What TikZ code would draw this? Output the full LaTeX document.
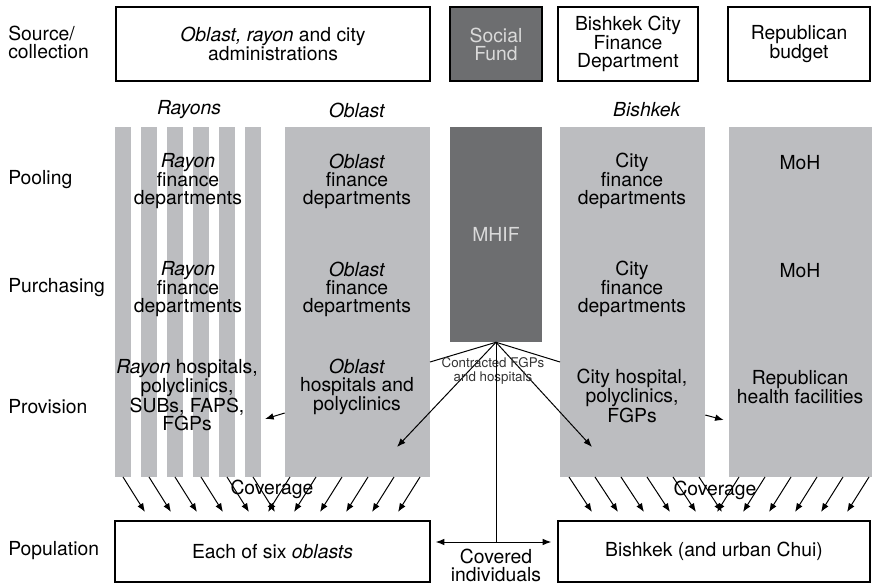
\documentclass[tikz,border=0pt]{standalone}
\usepackage{fontspec}
\setmainfont{TeX Gyre Heros}
\usetikzlibrary{arrows.meta, positioning, calc}
\definecolor{colgray}{RGB}{188,189,192}
\definecolor{fundgray}{RGB}{109,110,112}
\definecolor{fundtext}{RGB}{218,218,218}

\begin{document}
\begin{tikzpicture}[x=0.75pt,y=-0.75pt,
  txt/.style={font=\fontsize{14.5}{13.5}\selectfont, align=center, inner sep=0pt},
  lbl/.style={txt, anchor=west, align=left},
  srcbox/.style={draw, line width=1.1pt, txt, minimum height=55.5pt},
  fund/.style={fill=fundgray, text=fundtext},
  column/.style={fill=colgray, txt, minimum width=108.75pt, minimum height=262.5pt},
  popbox/.style={draw, line width=1.1pt, txt, minimum height=45.75pt},
  arr/.style={-{Latex[length=6.5pt,width=5pt]}, line width=0.75pt}]
\useasboundingbox (0,0) rectangle (872,585);

% Row labels
\node[lbl] (lsrc) at (8,42) {Source/\\collection};
\node[lbl] (lpool) at (8,180) {Pooling};
\node[lbl] (lpurch) at (8,288) {Purchasing};
\node[lbl] (lprov) at (8,407) {Provision};
\node[lbl] (lpop) at (8,551) {Population};

% Sources
\node[srcbox, minimum width=235.5pt] (admin) at (273,44) {\textit{Oblast, rayon} and city\\administrations};
\node[srcbox, fund, minimum width=69pt] (sfund) at (496,44) {Social\\Fund};
\node[srcbox, minimum width=105pt] (bcfd) at (628,44) {Bishkek City\\Finance\\Department};
\node[srcbox, minimum width=106.5pt] (rbud) at (799,44) {Republican\\budget};

% Column headers
\node[txt] (hray) at (189,110) {\textit{Rayons}};
\node[txt] (hobl) at (357,110) {\textit{Oblast}};
\node[txt] (hbish) at (647,110) {\textit{Bishkek}};

% Columns
\foreach \i in {0,...,5}
  \fill[colgray] ({115+26*\i},127) rectangle ++(16,350);
\node[column] (oblcol) at (357.5,302) {};
\node[column, fund, minimum width=69pt, minimum height=161.25pt] (mhif) at (496,234.5) {MHIF};
\node[column] (citycol) at (632.5,302) {};
\node[column, minimum width=107.25pt] (repcol) at (800.5,302) {};

% Column texts
\node[txt] (raypool) at (188,181) {\textit{Rayon}\\finance\\departments};
\node[txt] (raypurch) at (188,289) {\textit{Rayon}\\finance\\departments};
\node[txt] (rayprov) at (187,395) {\textit{Rayon} hospitals,\\polyclinics,\\SUBs, FAPS,\\FGPs};
\node[txt] (oblpool) at (357,181) {\textit{Oblast}\\finance\\departments};
\node[txt] (oblpurch) at (357,289) {\textit{Oblast}\\finance\\departments};
\node[txt] (oblprov) at (357,387) {\textit{Oblast}\\hospitals and\\polyclinics};
\node[txt] (citypool) at (632,181) {City\\finance\\departments};
\node[txt] (citypurch) at (632,289) {City\\finance\\departments};
\node[txt] (cityprov) at (632,396) {City hospital,\\polyclinics,\\FGPs};
\node[txt] (mohpool) at (800,163) {MoH};
\node[txt] (mohpurch) at (800,271) {MoH};
\node[txt] (repprov) at (800,387) {Republican\\health facilities};

% MHIF contracts
\coordinate (lcon) at (430,362);
\coordinate (rcon) at (560,362);
\draw[line width=0.75pt] (lcon) -- (mhif.south) -- (rcon);
\coordinate (oarr) at (397,447);
\coordinate (carr) at (592,447);
\draw[arr] (mhif.south) -- (oarr);
\draw[arr] (mhif.south) -- (carr);
\node[font=\fontsize{10}{10}\selectfont, align=center, inner sep=0pt, text=black!80] (contr) at (493,371) {Contracted FGPs\\and hospitals};

% Referrals
\coordinate (rayin) at (265,419);
\draw[arr] ($(oblcol.west)+(0,111)$) -- (rayin);
\draw[arr] ($(citycol.east)+(0,113)$) -- ($(repcol.west)+(-5,118)$);

% Coverage
\foreach \i in {0,...,5} {
  \draw[arr] ({123+26*\i},477) -- ++(22,35);
  \draw[arr] ({290+26*\i},477) -- ++(-22,35);
  \draw[arr] ({569+26*\i},477) -- ++(23,35);
  \draw[arr] ({739+26*\i},477) -- ++(-22,35);
}
\node[txt] (covl) at (272,489) {Coverage};
\node[txt] (covr) at (715,490) {Coverage};

% Population
\node[popbox, minimum width=236.25pt] (six) at (272.5,551.5) {Each of six \textit{oblasts}};
\node[popbox, minimum width=234pt] (bish) at (714,551.5) {Bishkek (and urban Chui)};
\coordinate (cov) at (496,542);
\draw[line width=0.75pt] (mhif.south) -- (cov);
\draw[arr, shorten >=3.75pt] (cov) -- (six.east |- cov);
\draw[arr, shorten >=4.5pt] (cov) -- (bish.west |- cov);
\node[txt] (covind) at (496,565) {Covered\\individuals};
\end{tikzpicture}
\end{document}
